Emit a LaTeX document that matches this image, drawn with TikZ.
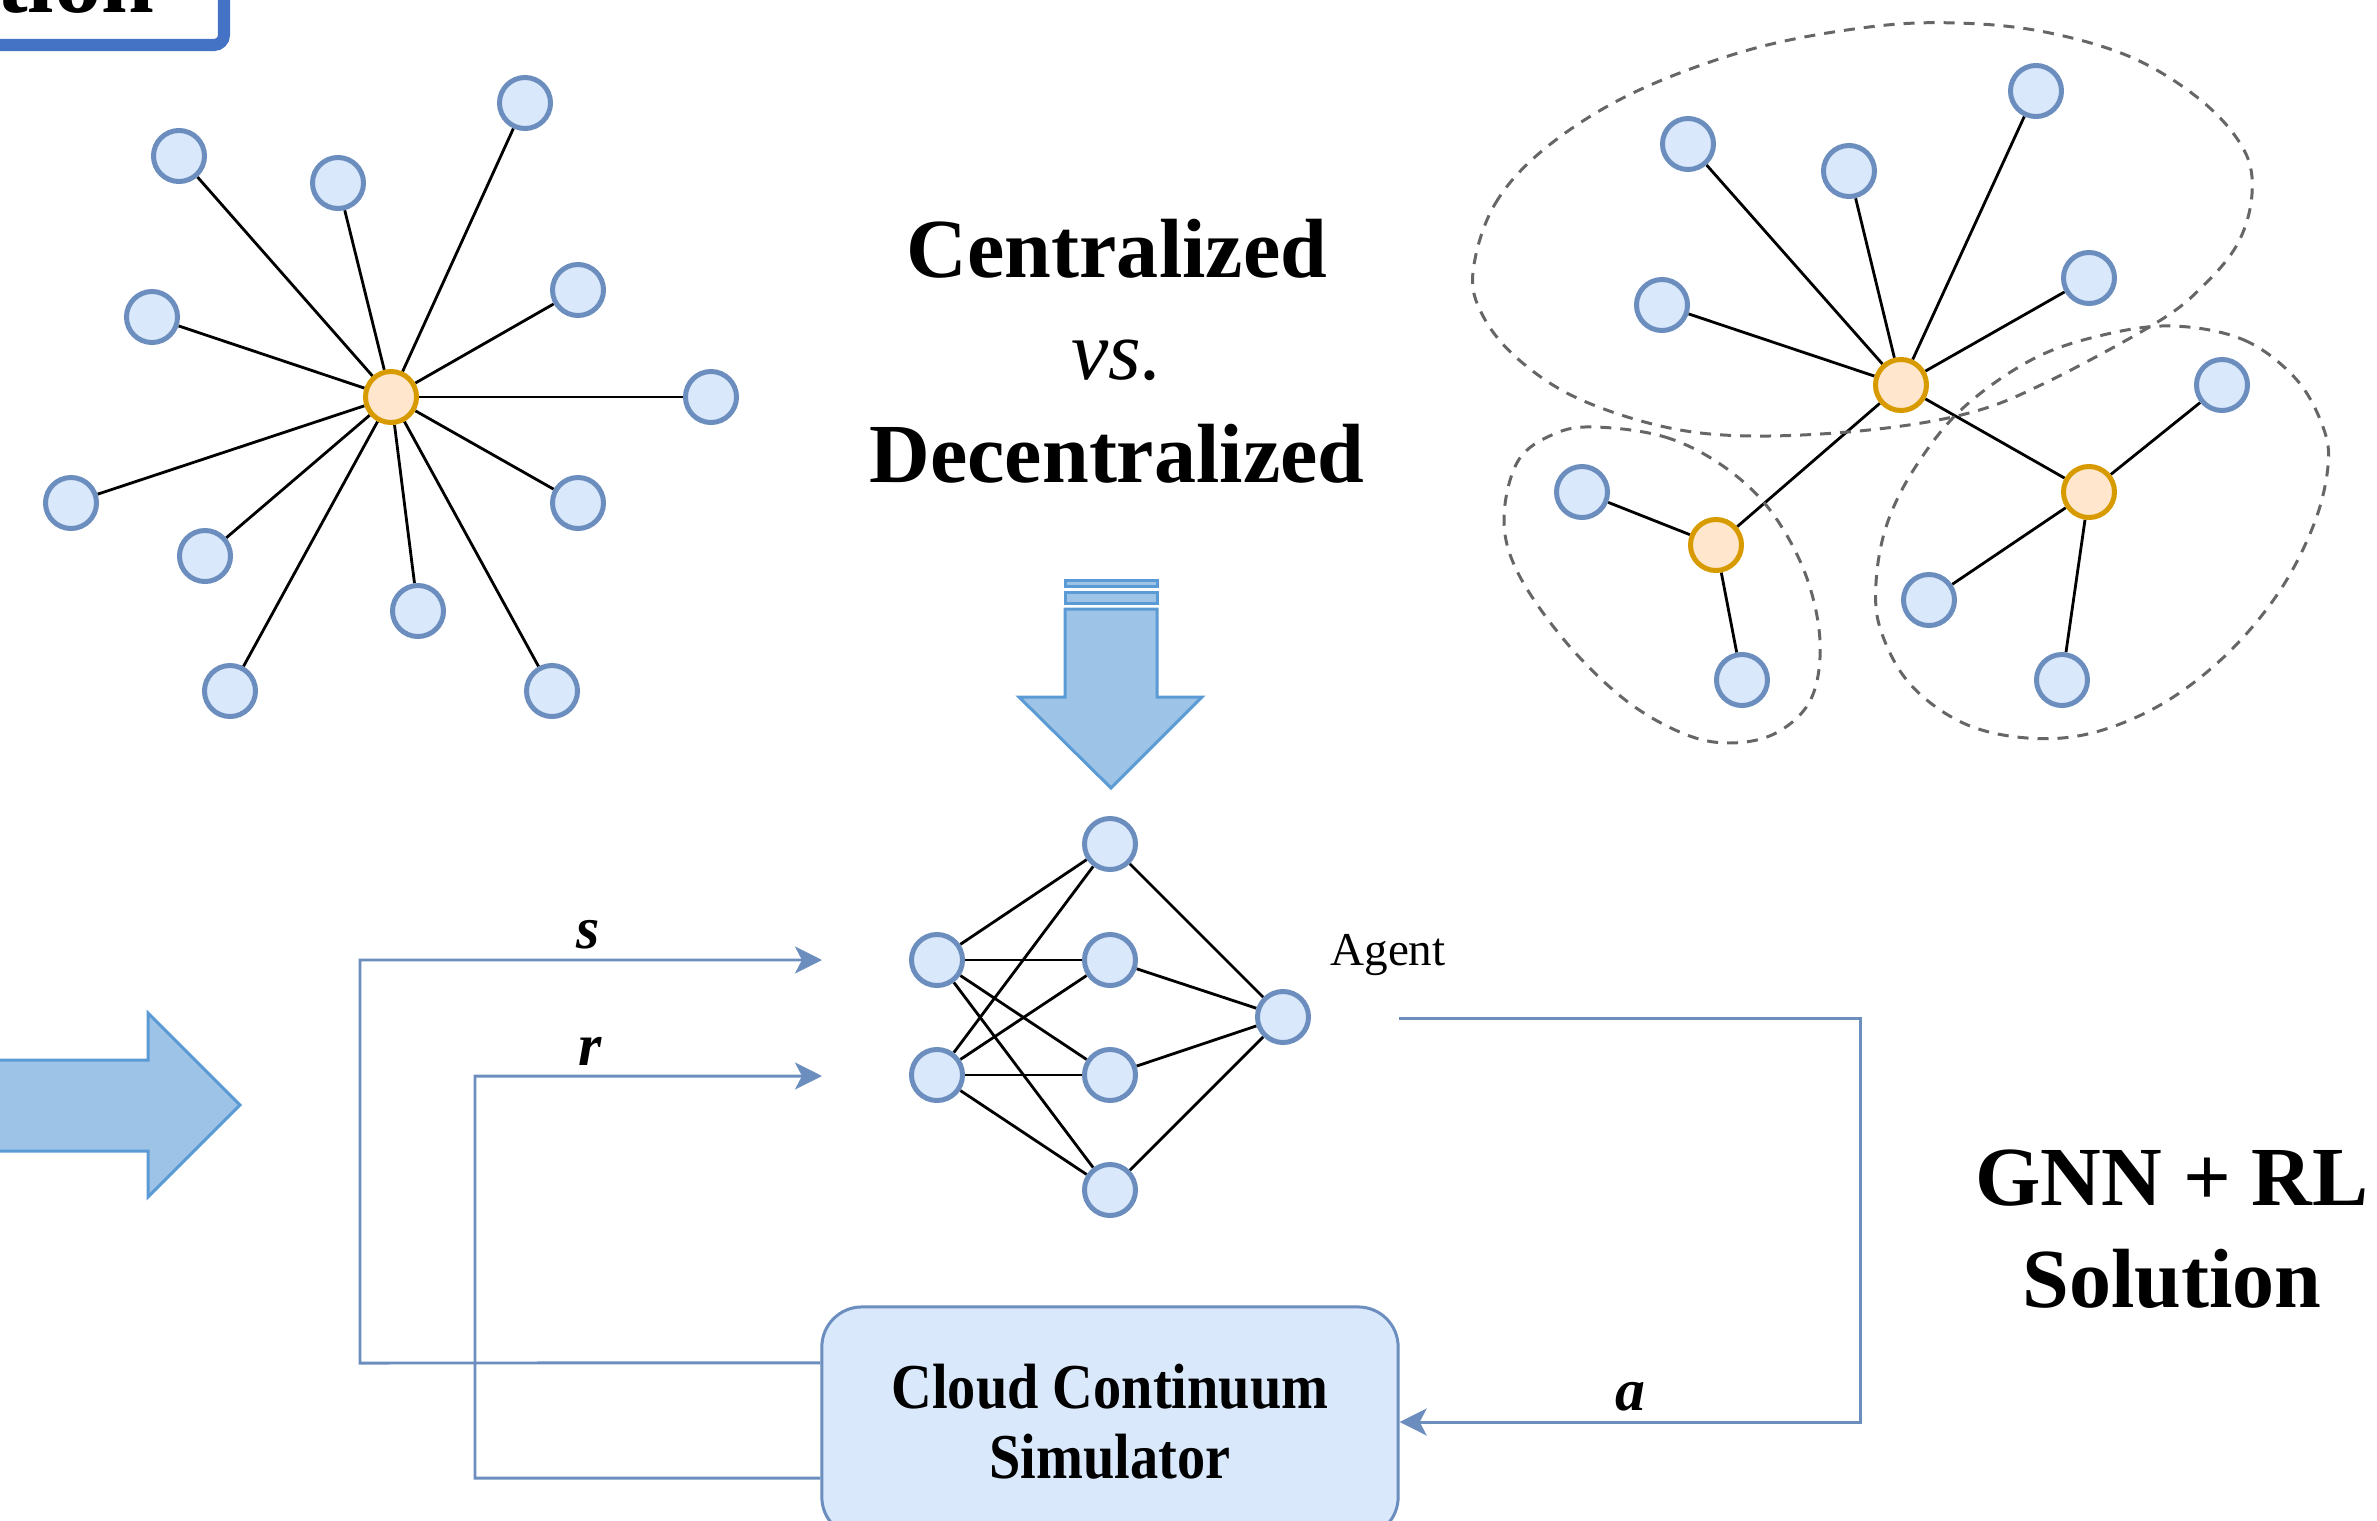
\documentclass[tikz,border=0pt]{standalone}
\usepackage{fontspec}
\setmainfont{Liberation Serif}
\usetikzlibrary{arrows.meta,backgrounds}

\definecolor{nodefill}{HTML}{DAE8FC}
\definecolor{nodeline}{HTML}{6C8EBF}
\definecolor{hubfill}{HTML}{FFE6CC}
\definecolor{hubline}{HTML}{D79B00}
\definecolor{arrowfill}{HTML}{9DC3E6}
\definecolor{arrowline}{HTML}{5B9BD5}
\definecolor{framecol}{HTML}{4472C4}
\definecolor{groupline}{HTML}{666666}

\tikzset{
  leaf/.style={circle, draw=nodeline, fill=nodefill, line width=0.05cm,
    minimum size=0.51cm, inner sep=0pt},
  hub/.style={leaf, draw=hubline, fill=hubfill},
  edge/.style={draw=black, line width=0.8pt},
  flow/.style={draw=nodeline, line width=0.85pt},
  flowtip/.style={flow, -{Stealth[length=0.27cm, width=0.27cm, inset=0.07cm]}},
  bigarrow/.style={fill=arrowfill, draw=arrowline, line width=0.03cm, line join=miter},
  group/.style={draw=groupline, line width=0.85pt, dash pattern=on 0.11cm off 0.09cm},
  title/.style={font=\fontsize{23.9}{29}\selectfont\bfseries, inner sep=0pt, anchor=base},
  lbl/.style={font=\fontsize{17}{20}\selectfont\bfseries\itshape, inner sep=0pt, anchor=base},
}

\begin{document}
\begin{tikzpicture}[x=0.01cm, y=-0.01cm]
\useasboundingbox (0,0) rectangle (2377,1521);
\clip (0,0) rectangle (2377,1521);

% heading frame in the corner
\draw[framecol, line width=0.12cm, rounded corners=0.1cm] (-60,-120) rectangle (224,45);
\node[font=\fontsize{27}{32}\selectfont\bfseries, inner sep=0pt, anchor=base east] (head) at (155,12) {tion};

% ---------- centralized star ----------
\node[hub] (c0) at (391,397) {};
\foreach \n/\x/\y in {1/179/156, 2/338/183, 3/525/103, 4/152/317, 5/578/290, 6/711/397,
                      7/71/503, 8/578/503, 9/205/556, 10/418/611, 11/230/691, 12/552/691}
  \node[leaf] (a\n) at (\x,\y) {};

% ---------- decentralized clusters ----------
\node[hub] (h0) at (1901,385) {};
\node[hub] (h1) at (1716,545) {};
\node[hub] (h2) at (2089,492) {};
\node[leaf] (b1) at (1688,144) {};
\node[leaf] (b2) at (1849,171) {};
\node[leaf] (b3) at (2036,91) {};
\node[leaf] (b4) at (1662,305) {};
\node[leaf] (b5) at (2089,278) {};
\node[leaf] (b6) at (1582,492) {};
\node[leaf] (b7) at (1742,680) {};
\node[leaf] (b8) at (2222,385) {};
\node[leaf] (b9) at (1929,600) {};
\node[leaf] (b10) at (2062,680) {};

% ---------- agent network ----------
\node[leaf] (i1) at (937,960) {};
\node[leaf] (i2) at (937,1075) {};
\node[leaf] (k1) at (1110,844) {};
\node[leaf] (k2) at (1110,960) {};
\node[leaf] (k3) at (1110,1075) {};
\node[leaf] (k4) at (1110,1190) {};
\node[leaf] (o1) at (1283,1017) {};
\node[font=\fontsize{13.4}{16}\selectfont, inner sep=0pt, anchor=base] (agent) at (1388,965) {Agent};

\begin{scope}[on background layer]
  \foreach \n in {1,...,12} \draw[edge] (c0) -- (a\n);
  \foreach \n in {1,...,5} \draw[edge] (h0) -- (b\n);
  \draw[edge] (h0) -- (h1);
  \draw[edge] (h0) -- (h2);
  \draw[edge] (h1) -- (b6);
  \draw[edge] (h1) -- (b7);
  \draw[edge] (h2) -- (b8);
  \draw[edge] (h2) -- (b9);
  \draw[edge] (h2) -- (b10);
  \foreach \i in {1,2} \foreach \k in {1,...,4} \draw[edge] (i\i) -- (k\k);
  \foreach \k in {1,...,4} \draw[edge] (k\k) -- (o1);

  % dashed cluster outlines
  \draw[group] plot[smooth cycle, tension=0.6] coordinates {
    (1473,272) (1495,204) (1548,146) (1635,92) (1752,49) (1869,27) (1957,23)
    (2045,32) (2133,58) (2203,102) (2244,150) (2252,194) (2238,243) (2203,286)
    (2156,323) (2045,383) (1969,413) (1869,430) (1752,436) (1665,427) (1577,398)
    (1518,359) (1483,316)};
  \draw[group] plot[smooth cycle, tension=0.6] coordinates {
    (1595,427) (1665,437) (1723,466) (1770,510) (1805,573) (1820,641) (1811,699)
    (1776,733) (1729,743) (1682,733) (1624,699) (1565,641) (1518,573) (1504,519)
    (1518,461) (1554,434)};
  \draw[group] plot[smooth cycle, tension=0.6] coordinates {
    (2173,326) (2244,340) (2296,379) (2323,427) (2328,466) (2314,524) (2279,592)
    (2226,655) (2162,704) (2092,733) (2027,738) (1963,723) (1910,684) (1881,631)
    (1876,583) (1887,524) (1916,466) (1963,408) (2033,359) (2103,335)};
\end{scope}

% ---------- titles ----------
\node[title] (t1) at (1117,277) {Centralized};
\node[font=\fontsize{23.9}{29}\selectfont\itshape, inner sep=0pt, anchor=base] (t2) at (1117,379) {vs.};
\node[title] (t3) at (1117,482) {Decentralized};
\node[title] (g1) at (2172,1205) {GNN + RL};
\node[title] (g2) at (2172,1307) {Solution};

% ---------- block arrows ----------
\path[bigarrow] (1065,580) rectangle (1157,586);
\path[bigarrow] (1065,592) rectangle (1157,603);
\path[bigarrow] (1065,609) -- (1157,609) -- (1157,697) -- (1202,697) -- (1111,788)
  -- (1019,697) -- (1065,697) -- cycle;
\path[bigarrow] (-10,1060) -- (148,1060) -- (148,1013) -- (240,1105) -- (148,1197)
  -- (148,1151) -- (-10,1151) -- cycle;

% ---------- simulator and feedback loop ----------
\node[draw=nodeline, fill=nodefill, line width=0.03cm, rounded corners=0.4cm,
  minimum width=5.76cm, minimum height=2.30cm, align=center,
  font=\fontsize{18.2}{19.9}\selectfont\bfseries] (sim) at (1110,1422)
  {\scalebox{0.88}[1]{Cloud Continuum}\\\scalebox{0.88}[1]{Simulator}};

\coordinate (sin) at (822,960);
\coordinate (rin) at (822,1076);
\coordinate (aout) at (1399,1018);

\draw[flowtip] ([yshift=0.59cm]sim.west) -- (360,1363) -- (360,960) -- (sin);
\draw[flowtip] ([yshift=-0.56cm]sim.west) -- (475,1478) -- (475,1076) -- (rin);
\draw[flowtip] (aout) -- (1860,1018) -- (1860,1422) -- (sim.east);

\node[lbl] (ls) at (588,948) {s};
\node[lbl] (lr) at (590,1065) {r};
\node[lbl] (la) at (1630,1410) {a};
\end{tikzpicture}
\end{document}
